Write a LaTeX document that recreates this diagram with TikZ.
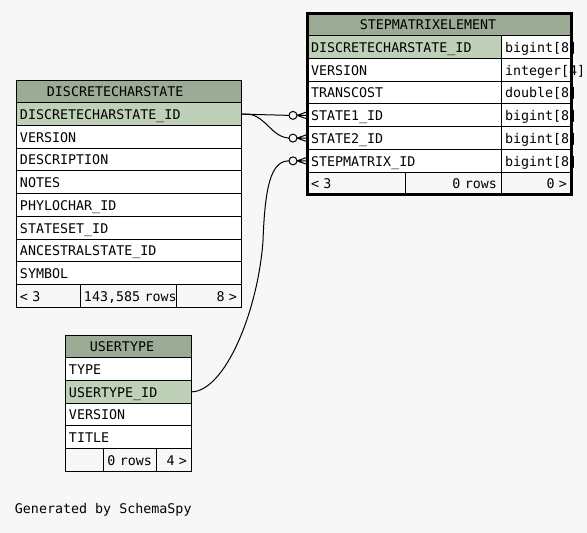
\documentclass[tikz,border=0pt]{standalone}
\usepackage{fontspec}
\setmonofont{DejaVu Sans Mono}
\usetikzlibrary{positioning,fit}
\definecolor{bodybg}{HTML}{F7F7F7}
\definecolor{headgreen}{HTML}{9BAB96}
\definecolor{keygreen}{HTML}{BED1B8}
\tikzstyle{cell} = [rectangle, draw, fill=white, outer sep=0pt, inner xsep=3pt,
    inner ysep=0pt, minimum height=17.06pt, text height=8pt, text depth=0pt, align=left]
\tikzstyle{keycell} = [cell, fill=keygreen]
\tikzstyle{footcell} = [cell, fill=bodybg]
\tikzstyle{tblhead} = [rectangle, draw, fill=headgreen, outer sep=0pt,
    minimum height=17.06pt, anchor=north west]
\tikzstyle{link} = [line width=0.75pt]
% open circle plus crow's foot at the west side of a row
\newcommand{\manyend}[1]{%
  \draw[link] ([xshift=-7.5pt]#1.west) -- ([yshift=2.6pt]#1.west)
              ([xshift=-7.5pt]#1.west) -- (#1.west)
              ([xshift=-7.5pt]#1.west) -- ([yshift=-2.6pt]#1.west);
  \draw[link, fill=bodybg] ([xshift=-10.5pt]#1.west) circle (3pt);}

\begin{document}
\begin{tikzpicture}[x=0.75pt, y=-0.75pt, font=\ttfamily\fontsize{10}{12}\selectfont, line width=0.75pt]
\fill[bodybg] (0,0) rectangle (587,533);
\useasboundingbox (0,0) rectangle (587,533);

% DISCRETECHARSTATE
\node[tblhead, minimum width=168.75pt, label={[xshift=-10pt, text height=8pt, text depth=0pt]center:DISCRETECHARSTATE}] (dcs-head) at (16,80) {};
\node[keycell, text width=162.75pt, below=0pt of dcs-head] (dcs-id) {DISCRETECHARSTATE\_ID};
\node[cell, text width=162.75pt, below=0pt of dcs-id] (dcs-ver) {VERSION};
\node[cell, text width=162.75pt, below=0pt of dcs-ver] (dcs-desc) {DESCRIPTION};
\node[cell, text width=162.75pt, below=0pt of dcs-desc] (dcs-notes) {NOTES};
\node[cell, text width=162.75pt, below=0pt of dcs-notes] (dcs-pc) {PHYLOCHAR\_ID};
\node[cell, text width=162.75pt, below=0pt of dcs-pc] (dcs-ss) {STATESET\_ID};
\node[cell, text width=162.75pt, below=0pt of dcs-ss] (dcs-anc) {ANCESTRALSTATE\_ID};
\node[cell, text width=162.75pt, below=0pt of dcs-anc] (dcs-sym) {SYMBOL};
\node[footcell, text width=42pt, below right=0pt of dcs-sym.south west] (dcs-f1) {<~3};
\node[footcell, text width=66pt, align=right, right=0pt of dcs-f1] (dcs-f2) {143,585~rows};
\node[footcell, text width=42.75pt, align=right, right=0pt of dcs-f2] (dcs-f3) {8~>};

% STEPMATRIXELEMENT
\node[tblhead, minimum width=198pt, label={[xshift=-8.25pt, text height=8pt, text depth=0pt]center:STEPMATRIXELEMENT}] (sme-head) at (307,13) {};
\node[keycell, text width=139.5pt, below right=0pt of sme-head.south west] (sme-dcs) {DISCRETECHARSTATE\_ID};
\node[cell, text width=46.5pt, right=0pt of sme-dcs] (sme-dcs-t) {bigint[8]};
\node[cell, text width=139.5pt, below=0pt of sme-dcs] (sme-ver) {VERSION};
\node[cell, text width=46.5pt, right=0pt of sme-ver] (sme-ver-t) {integer[4]};
\node[cell, text width=139.5pt, below=0pt of sme-ver] (sme-cost) {TRANSCOST};
\node[cell, text width=46.5pt, right=0pt of sme-cost] (sme-cost-t) {double[8]};
\node[cell, text width=139.5pt, below=0pt of sme-cost] (sme-s1) {STATE1\_ID};
\node[cell, text width=46.5pt, right=0pt of sme-s1] (sme-s1-t) {bigint[8]};
\node[cell, text width=139.5pt, below=0pt of sme-s1] (sme-s2) {STATE2\_ID};
\node[cell, text width=46.5pt, right=0pt of sme-s2] (sme-s2-t) {bigint[8]};
\node[cell, text width=139.5pt, below=0pt of sme-s2] (sme-sm) {STEPMATRIX\_ID};
\node[cell, text width=46.5pt, right=0pt of sme-sm] (sme-sm-t) {bigint[8]};
\node[footcell, text width=67.5pt, below right=0pt of sme-sm.south west] (sme-f1) {<~3};
\node[footcell, text width=66pt, align=right, right=0pt of sme-f1] (sme-f2) {0~rows};
\node[footcell, text width=46.5pt, align=right, right=0pt of sme-f2] (sme-f3) {0~>};
\node[fit=(sme-head)(sme-f3), draw, line width=2.25pt, inner sep=0pt] (sme-box) {};

% USERTYPE
\node[tblhead, minimum width=94.5pt, label={[xshift=-4.5pt, text height=8pt, text depth=0pt]center:USERTYPE}] (ut-head) at (65,335) {};
\node[cell, text width=88.5pt, below=0pt of ut-head] (ut-type) {TYPE};
\node[keycell, text width=88.5pt, below=0pt of ut-type] (ut-id) {USERTYPE\_ID};
\node[cell, text width=88.5pt, below=0pt of ut-id] (ut-ver) {VERSION};
\node[cell, text width=88.5pt, below=0pt of ut-ver] (ut-title) {TITLE};
\node[footcell, text width=22.5pt, below right=0pt of ut-title.south west] (ut-f1) {};
\node[footcell, text width=33.75pt, align=right, right=0pt of ut-f1] (ut-f2) {0~rows};
\node[footcell, text width=20.25pt, align=right, right=0pt of ut-f2] (ut-f3) {4~>};

% relationships
\draw[link] (dcs-id.east) -- ([xshift=-13.5pt]sme-s1.west);
\draw[link] (dcs-id.east) -- ++(8,0) to[out=-10, in=175] ([xshift=-13.5pt]sme-s2.west);
\draw[link] (ut-id.east) .. controls +(34,0) and +(-5,70) .. ++(72,-151)
    .. controls +(2,-55) and +(-18,0) .. ([xshift=-13.5pt]sme-sm.west);
\manyend{sme-s1}
\manyend{sme-s2}
\manyend{sme-sm}

\node[anchor=west] (credit) at (10,510) {Generated by SchemaSpy};
\end{tikzpicture}
\end{document}
